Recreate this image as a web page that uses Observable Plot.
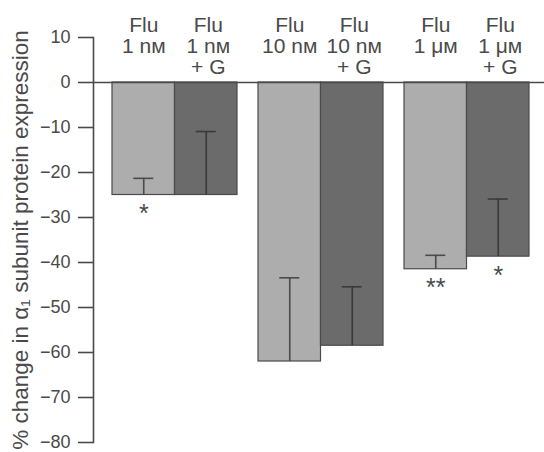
<!DOCTYPE html>
<html><head><meta charset="utf-8">
<script src="https://cdn.jsdelivr.net/npm/d3@7"></script>
<script src="https://cdn.jsdelivr.net/npm/@observablehq/plot@0.6"></script>
<style>body{margin:0;background:#fff}#chart svg{display:block}</style>
</head><body><div id="chart"></div>
<script>
// ---- data ----
const groups = ["1 nᴍ", "10 nᴍ", "1 μᴍ"];
const fluValues = [-25, -62, -41.5];
const fluGValues = [-25, -58.5, -38.7];
const fluErrTop = [-21.3, -43.4, -38.4];
const fluGErrTop = [-10.9, -45.4, -25.9];
const fluStars = ["*", "", "**"];
const fluGStars = ["", "", "*"];
const fluLabels = ["Flu\n1 nᴍ", "Flu\n10 nᴍ", "Flu\n1 μᴍ"];
const fluGLabels = ["Flu\n1 nᴍ\n+ G", "Flu\n10 nᴍ\n+ G", "Flu\n1 μᴍ\n+ G"];
const yTicks = [10, 0, -10, -20, -30, -40, -50, -60, -70, -80];
const yLabel = "% change in α₁ subunit protein expression";

const flu = groups.map((g, i) => ({group: g, value: fluValues[i], err: fluErrTop[i], star: fluStars[i], label: fluLabels[i]}));
const fluG = groups.map((g, i) => ({group: g, value: fluGValues[i], err: fluGErrTop[i], star: fluGStars[i], label: fluGLabels[i]}));

const ink = "#4a4a4a";
const half = 62.5, q = 31.25;

const chart = Plot.plot({
  width: 544,
  height: 452,
  marginLeft: 93,
  marginRight: 0,
  marginTop: 37,
  marginBottom: 10,
  style: {fontFamily: "'Liberation Sans', Arial, sans-serif", color: ink, background: "#fff"},
  x: {type: "band", domain: groups, paddingInner: 0.144, paddingOuter: 0.1165, align: 0.56, axis: null},
  y: {domain: [-80, 10]},
  marks: [
    Plot.barY(flu, {x: "group", y1: 0, y2: "value", fill: "#adadad", stroke: ink, strokeWidth: 1.2, insetRight: half}),
    Plot.barY(fluG, {x: "group", y1: 0, y2: "value", fill: "#6b6b6b", stroke: ink, strokeWidth: 1.2, insetLeft: half}),
    Plot.ruleX(flu, {x: "group", y1: "value", y2: "err", dx: -q, stroke: ink, strokeWidth: 1.6}),
    Plot.ruleX(fluG, {x: "group", y1: "value", y2: "err", dx: q, stroke: "#3a3a3a", strokeWidth: 1.6}),
    Plot.tickY(flu, {x: "group", y: "err", insetLeft: 21.25, insetRight: 83.75, stroke: ink, strokeWidth: 1.6}),
    Plot.tickY(fluG, {x: "group", y: "err", insetLeft: 83.75, insetRight: 21.25, stroke: "#3a3a3a", strokeWidth: 1.6}),
    Plot.text(flu, {x: "group", y: "value", text: "star", dx: -q, dy: 19, fontSize: 25, fill: ink}),
    Plot.text(fluG, {x: "group", y: "value", text: "star", dx: q, dy: 19, fontSize: 25, fill: ink}),
    Plot.text(flu, {x: "group", text: "label", frameAnchor: "top", lineAnchor: "top", dy: -20, dx: -q, fontSize: 21, lineHeight: 1.0, fill: ink}),
    Plot.text(fluG, {x: "group", text: "label", frameAnchor: "top", lineAnchor: "top", dy: -20, dx: q + 2, fontSize: 21, lineHeight: 1.0, fill: ink}),
    Plot.ruleY([0], {stroke: ink, strokeWidth: 1.6}),
    Plot.frame({anchor: "left", stroke: ink, strokeWidth: 1.6}),
    Plot.axisY({ticks: yTicks, tickSize: 15, tickPadding: 8, fontSize: 18, strokeWidth: 1.6,
      tickFormat: d => d < 0 ? "\u2212" + (-d) : String(d)}),
    Plot.text([yLabel], {frameAnchor: "left", dx: -73, rotate: -90, fontSize: 22.5, textAnchor: "middle", lineAnchor: "middle", fill: ink})
  ]
});
document.getElementById("chart").appendChild(chart);
</script>
</body></html>
